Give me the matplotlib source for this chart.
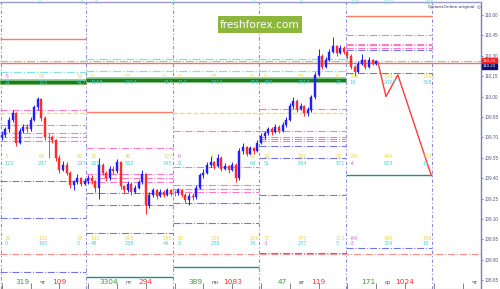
import matplotlib
matplotlib.use("Agg")
import matplotlib.pyplot as plt
from matplotlib.patches import Rectangle
import matplotlib.transforms as mtransforms

# ---------------- data ----------------
first_open = 109.70
closes = [109.72, 109.76, 109.83, 109.88, 109.66, 109.75, 109.78, 109.76, 109.83, 109.92, 109.98, 109.84,
          109.70, 109.70, 109.68, 109.55, 109.46, 109.50, 109.44, 109.35, 109.37, 109.40, 109.36, 109.38,
          109.40, 109.38, 109.33, 109.50, 109.44, 109.40, 109.47, 109.45, 109.52, 109.34, 109.31, 109.36,
          109.30, 109.33, 109.37, 109.43, 109.20, 109.28, 109.31, 109.27, 109.30, 109.28, 109.31, 109.29,
          109.29, 109.31, 109.28, 109.24, 109.27, 109.26, 109.33, 109.42, 109.44, 109.50, 109.52, 109.49,
          109.55, 109.47, 109.49, 109.46, 109.50, 109.40, 109.60, 109.63, 109.58, 109.62, 109.60, 109.66,
          109.71, 109.73, 109.76, 109.74, 109.78, 109.75, 109.79, 109.83, 109.93, 109.97, 109.91, 109.93,
          109.88, 109.90, 110.00, 110.16, 110.30, 110.22, 110.27, 110.33, 110.37, 110.32, 110.36, 110.33,
          110.30, 110.22, 110.18, 110.24, 110.27, 110.22, 110.27, 110.24, 110.26]
highs = [109.75, 109.78, 109.85, 109.90, 109.89, 109.77, 109.80, 109.80, 109.85, 109.94, 110.00, 109.99,
         109.86, 109.73, 109.72, 109.69, 109.57, 109.53, 109.52, 109.45, 109.39, 109.43, 109.41, 109.40,
         109.42, 109.42, 109.39, 109.55, 109.51, 109.45, 109.49, 109.49, 109.54, 109.53, 109.35, 109.38,
         109.37, 109.35, 109.39, 109.46, 109.44, 109.30, 109.33, 109.32, 109.32, 109.31, 109.33, 109.32,
         109.31, 109.33, 109.32, 109.29, 109.29, 109.29, 109.35, 109.44, 109.47, 109.52, 109.56, 109.53,
         109.58, 109.56, 109.51, 109.50, 109.52, 109.51, 109.62, 109.66, 109.64, 109.64, 109.63, 109.68,
         109.73, 109.75, 109.78, 109.78, 109.80, 109.79, 109.81, 109.85, 109.95, 110.00, 109.98, 109.95,
         109.94, 109.92, 110.01, 110.18, 110.35, 110.31, 110.29, 110.35, 110.44, 110.38, 110.38, 110.37,
         110.34, 110.31, 110.23, 110.26, 110.31, 110.28, 110.29, 110.28, 110.27]
lows = [109.68, 109.70, 109.74, 109.81, 109.64, 109.65, 109.73, 109.74, 109.75, 109.82, 109.90, 109.82,
        109.68, 109.55, 109.66, 109.53, 109.44, 109.45, 109.42, 109.33, 109.31, 109.36, 109.34, 109.35,
        109.36, 109.36, 109.30, 109.25, 109.42, 109.38, 109.39, 109.43, 109.44, 109.32, 109.29, 109.30,
        109.28, 109.29, 109.32, 109.36, 109.14, 109.18, 109.26, 109.25, 109.26, 109.26, 109.27, 109.27,
        109.27, 109.28, 109.26, 109.22, 109.20, 109.24, 109.25, 109.32, 109.40, 109.43, 109.48, 109.47,
        109.48, 109.45, 109.46, 109.44, 109.45, 109.37, 109.39, 109.58, 109.56, 109.57, 109.58, 109.59,
        109.65, 109.69, 109.72, 109.72, 109.73, 109.73, 109.74, 109.78, 109.82, 109.91, 109.89, 109.90,
        109.86, 109.86, 109.89, 109.98, 110.15, 110.20, 110.21, 110.26, 110.32, 110.30, 110.31, 110.31,
        110.28, 110.20, 110.15, 110.17, 110.23, 110.20, 110.21, 110.23, 110.23]

# day boundaries (candle index units); last one = right edge of the chart
day_bounds = [-0.5, 23.5, 47.5, 71.5, 95.5, 119.5, 133.1]
day_names = ["чт", "пт", "пн", "вт", "ср", "чт"]
day_left_nums = ["319", "3304", "389", "47", "171", ""]
day_right_nums = ["109", "294", "1083", "119", "1024", ""]

# forecast zigzag
zz_x = [104.5, 106.7, 110.0, 119.3]
zz_y = [110.25, 110.00, 110.16, 109.42]

# level lines: (start day bound, end day bound, price, style)
levels = [
    (0, 1, 110.42, "salmon"), (0, 6, 110.26, "green_dd"), (0, 6, 110.25, "red"),
    (0, 1, 110.18, "cyan_dd"), (0, 1, 110.09, "salmon"), (0, 1, 109.90, "pink_dd"),
    (0, 1, 109.88, "yellow_d"), (0, 1, 109.79, "pink_dd"), (0, 1, 109.73, "pink_dd"),
    (0, 1, 109.70, "pink_dd"), (0, 1, 109.67, "pink_dd"), (0, 1, 109.38, "blue_dd"),
    (0, 1, 109.11, "blue_dd"), (0, 6, 108.84, "red_dd"), (0, 1, 108.71, "blue_dd"),
    (1, 4, 110.28, "cyan_dd"), (1, 4, 110.19, "cyan_dd"), (1, 2, 109.89, "salmon"),
    (2, 4, 109.88, "yellow_d"), (1, 2, 109.62, "pink_dd"), (1, 2, 109.43, "pink_dd"),
    (1, 2, 109.40, "pink_dd"), (1, 2, 109.37, "pink_dd"), (1, 2, 109.29, "blue_dd"),
    (1, 2, 109.20, "blue_dd"), (1, 2, 109.00, "blue_dd"), (1, 2, 108.67, "teal"),
    (2, 3, 109.75, "pink_dd"), (2, 3, 109.48, "pink_dd"), (2, 3, 109.35, "pink_dd"),
    (2, 3, 109.32, "pink_dd"), (2, 3, 109.30, "pink_dd"), (2, 3, 109.22, "blue_dd"),
    (2, 3, 109.07, "blue_dd"), (2, 3, 108.75, "teal"),
    (3, 4, 109.91, "pink_dd"), (3, 4, 109.75, "pink_dd"), (3, 4, 109.70, "pink_dd"),
    (3, 4, 109.69, "pink_dd"), (3, 4, 109.67, "pink_dd"), (3, 4, 109.64, "blue_dd"),
    (3, 4, 109.55, "blue_dd"), (3, 4, 109.28, "blue_dd"), (3, 4, 108.85, "blue_dd"),
    (4, 5, 110.59, "salmon"), (4, 5, 110.45, "pink_dd"), (4, 5, 110.39, "pink_dd"),
    (4, 5, 110.38, "pink_dd"), (4, 5, 110.36, "pink_dd"), (4, 5, 110.34, "blue_dd"),
    (4, 5, 110.17, "blue_dd"), (4, 5, 109.42, "teal"), (4, 5, 108.89, "blue_dd"),
]
green_bands = [(0, 1, 110.11), (1, 4, 110.12)]

# small statistics labels per day: 3 columns, rows A/B/C, yellow (upper) and cyan (lower)
rowA_y = [["-5", "58", "56"], ["6", "58", "0"], ["0", "58", "0"], ["0", "58", "0"], ["306", "159", "1304"]]
rowA_c = [["21", "115", "417"], ["1158", "2414", "114"], ["114", "2414", "400"], ["400", "2417", "26"], ["19", "2427", "368"]]
rowB_y = [["3", "65", "92"], ["31", "96", "127"], ["-9", "1", "92"], ["26", "202", "92"], ["291", "444", "802"]]
rowB_c = [["122", "297", "297"], ["265", "562", "345"], ["21", "", "64"], ["51", "634", "571"], ["-4", "623", "18"]]
rowC_y = [["39", "152", "39"], ["191", "393", "295"], ["80", "306", "256"], ["77", "475", "113"], ["-84", "499", "186"]]
rowC_c = [["0", "190", "0"], ["48", "238", "44"], ["0", "238", "34"], ["-1", "237", "5"], ["-3", "324", "18"]]
row_prices = {"A": (110.15, 110.10), "B": (109.56, 109.51), "C": (108.96, 108.92)}
col_offsets = [1.2, 10.6, 21.3]

price_ticks = [110.60, 110.45, 110.30, 110.15, 110.00, 109.85, 109.70, 109.55,
               109.40, 109.25, 109.10, 108.95, 108.80, 108.65]
red_price = "110.26"
bid_price = "110.23"

# ---------------- styles ----------------
styles = {
    "salmon": dict(color="#ff7a66", lw=1.0, ls="-"),
    "red": dict(color="#ff6a6a", lw=1.0, ls="-"),
    "green_dd": dict(color="#8fd88f", lw=0.9, ls="-."),
    "cyan_dd": dict(color="#7fe3e3", lw=0.9, ls="-."),
    "pink_dd": dict(color="#ff78c8", lw=0.8, ls="-."),
    "blue_dd": dict(color="#7474e8", lw=0.8, ls="-."),
    "yellow_d": dict(color="#f2e246", lw=0.9, ls="--"),
    "teal": dict(color="#1f9080", lw=1.0, ls="-"),
    "red_dd": dict(color="#ff8a8a", lw=0.8, ls="-."),
}

W, H = 500, 289
fig = plt.figure(figsize=(W / 100, H / 100), dpi=100)
fig.patch.set_facecolor("white")
ax = fig.add_axes([0, 0, 481 / W, 287 / H])

def px2p(ypx):
    return 110.60 - (ypx - 15) * 0.15 / 20.4

ax.set_xlim(day_bounds[0], day_bounds[-1])
ax.set_ylim(px2p(289), px2p(2))

# level lines
for s, e, p, st in levels:
    ax.hlines(p, day_bounds[s], day_bounds[e], zorder=2, **styles[st])
for s, e, p in green_bands:
    ax.hlines(p, day_bounds[s], day_bounds[e], color="#8fd08f", lw=4.2, zorder=2)
    ax.hlines(p, day_bounds[s], day_bounds[e], color="#1d7a1d", lw=2.4, zorder=2)

# day separators
for b in day_bounds[:-1]:
    ax.axvline(b + (0.25 if b < 0 else 0), color="#8c8cdc", lw=0.8, ls=(0, (3, 2, 1, 2)), zorder=1)

# candles
opens = [first_open] + closes[:-1]
for i, (o, c, hi, lo) in enumerate(zip(opens, closes, highs, lows)):
    if c > o:
        col = "#1f1fff"
    elif c < o:
        col = "#ff2b2b"
    else:
        col = "#808080"
    ax.vlines(i, lo, hi, color=col, lw=0.7, zorder=4)
    ax.bar(i, max(abs(c - o), 0.004), bottom=min(o, c), width=0.55, color=col,
           edgecolor=col, lw=0.3, zorder=5)

# forecast zigzag
ax.plot(zz_x, zz_y, color="#ff3b3b", lw=1.0, zorder=6)

# stat labels
def neg_col(t, base):
    return "#e060e0" if t.startswith("-") else base

for rows_y, rows_c, key in [(rowA_y, rowA_c, "A"), (rowB_y, rowB_c, "B"), (rowC_y, rowC_c, "C")]:
    py, pc = row_prices[key]
    for d in range(5):
        for k in range(3):
            x = day_bounds[d] + col_offsets[k]
            ax.text(x, py, rows_y[d][k], fontsize=3.6, color=neg_col(rows_y[d][k], "#e8d840"),
                    ha="left", va="center", zorder=7)
            ax.text(x, pc, rows_c[d][k], fontsize=3.6, color=neg_col(rows_c[d][k], "#4fcfcf"),
                    ha="left", va="center", zorder=7)

# bottom day labels
bt = mtransforms.blended_transform_factory(ax.transData, ax.transAxes)
for d in range(6):
    b = day_bounds[d]
    if day_left_nums[d]:
        ax.text(b + 6.3, 0.025, day_left_nums[d], transform=bt, fontsize=5.3, color="#3c9a3c",
                ha="center", va="center")
        ax.text(b + 16.5, 0.025, day_right_nums[d], transform=bt, fontsize=5.3, color="#ff3030",
                ha="center", va="center")
    ax.text(b + 11.8, 0.022, day_names[d], transform=bt, fontsize=3.8, color="#505050",
            ha="center", va="center")

# axes styling
ax.yaxis.tick_right()
ax.set_yticks(price_ticks)
ax.set_yticklabels([f"{v:.2f}" for v in price_ticks], family="Liberation Sans")
ax.tick_params(axis="y", direction="out", length=1.5, width=0.6, colors="#7070b0",
               labelsize=3.3, labelcolor="#55558a", pad=0.8)
ax.set_xticks([day_bounds[0] + 0.5 + 8 * k for k in range(17)])
ax.set_xticklabels([])
ax.tick_params(axis="x", direction="in", length=4, width=0.6, colors="#707070")
ax.spines["left"].set_visible(False)
ax.spines["right"].set_color("#7c7cc0")
ax.spines["right"].set_linewidth(1.0)
ax.spines["top"].set_color("#9a9ac8")
ax.spines["top"].set_linewidth(1.0)
ax.spines["bottom"].set_color("#909090")
ax.spines["bottom"].set_linewidth(0.8)

# price labels on the axis
rt = mtransforms.blended_transform_factory(ax.transAxes, ax.transData)
ax.text(1.004, 110.265, red_price, transform=rt, fontsize=3.2, color="white", ha="left", va="center",
        family="Liberation Sans",
        bbox=dict(boxstyle="square,pad=0.12", fc="#ff2020", ec="#ff2020"), clip_on=False, zorder=8)
ax.text(1.004, 110.222, bid_price, transform=rt, fontsize=3.2, color="white", ha="left", va="center",
        family="Liberation Sans",
        bbox=dict(boxstyle="square,pad=0.18", fc="#101070", ec="#101070"), clip_on=False, zorder=9)

# top clipped labels
for t, xp in [("0", 38), ("1", 80), ("0", 95), ("0", 172), ("4", 252), ("3", 300),
              ("125", 350), ("-617", 383), ("260", 425)]:
    fig.text(xp / W, 1 - 2.5 / H, t, fontsize=3.5, color="#7fdcdc", ha="left", va="center")

fig.text(475 / W, 1 - 7 / H, "OptionsOnline.original", fontsize=3.1, color="#303060",
         ha="right", va="center")
fig.text(478.3 / W, 1 - 7 / H, "\u25CE", fontsize=3.2, color="#606080", ha="center", va="center")

# watermark
fig.add_artist(Rectangle((218 / W, 1 - 33 / H), 84 / W, 17 / H, transform=fig.transFigure,
                         facecolor="#8db63c", edgecolor="none", zorder=10))
fig.text(260 / W, 1 - 24.5 / H, "freshforex.com", fontsize=7.6, color="white",
         ha="center", va="center", zorder=11)

fig.savefig("out.png", dpi=100, facecolor="white")
